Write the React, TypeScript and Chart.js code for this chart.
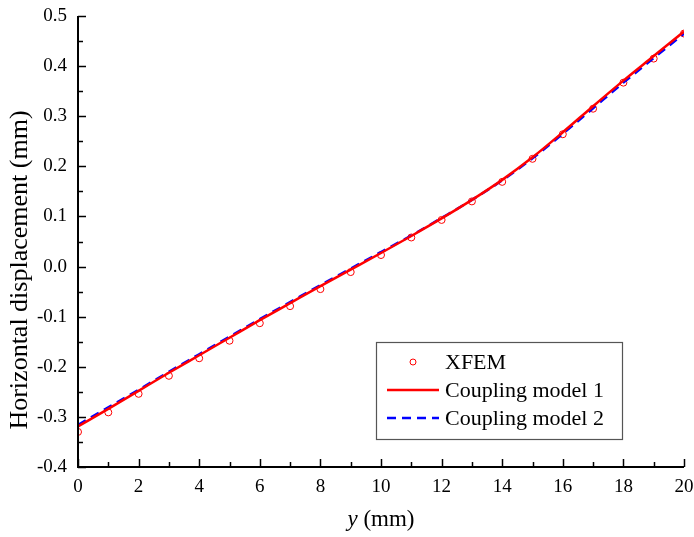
import React, { useEffect, useRef } from "react";
import { Chart, registerables } from "chart.js";

Chart.register(...registerables);

const xValues = [0, 1, 2, 3, 4, 5, 6, 7, 8, 9, 10, 11, 12, 13, 14, 15, 16, 17, 18, 19, 20];
const xfem = [-0.330, -0.291, -0.254, -0.218, -0.183, -0.148, -0.113, -0.079, -0.045, -0.011, 0.023, 0.058, 0.093, 0.130, 0.169, 0.215, 0.264, 0.315, 0.367, 0.415, 0.465];
const model1 = [-0.319, -0.284, -0.248, -0.212, -0.177, -0.142, -0.107, -0.073, -0.039, -0.006, 0.027, 0.061, 0.096, 0.133, 0.173, 0.218, 0.268, 0.320, 0.371, 0.420, 0.469];
const model2 = [-0.316, -0.281, -0.246, -0.210, -0.175, -0.140, -0.105, -0.071, -0.037, -0.004, 0.029, 0.062, 0.097, 0.133, 0.172, 0.216, 0.265, 0.316, 0.367, 0.416, 0.465];

const seriesNames = ["XFEM", "Coupling model 1", "Coupling model 2"];
const xTitleItalic = "y";
const xTitleRest = " (mm)";
const yTitle = "Horizontal displacement (mm)";

const FONT = "'Liberation Serif', 'Times New Roman', serif";

const toPts = (ys: number[]) => xValues.map((x, i) => ({ x, y: ys[i] }));

const decorPlugin = {
  id: "decor",
  afterDraw(chart: any) {
    const ctx = chart.ctx;
    const xs = chart.scales.x;
    const ys = chart.scales.y;
    const a = chart.chartArea;
    ctx.save();
    // axes
    ctx.strokeStyle = "#000";
    ctx.lineWidth = 2;
    ctx.beginPath();
    ctx.moveTo(a.left, a.top);
    ctx.lineTo(a.left, a.bottom);
    ctx.lineTo(a.right, a.bottom);
    ctx.stroke();
    // ticks (inward)
    ctx.lineWidth = 1.5;
    for (let v = 0; v <= 20; v += 1) {
      const px = Math.round(xs.getPixelForValue(v)) + 0.5;
      const len = v % 2 === 0 ? 8 : 5;
      ctx.beginPath();
      ctx.moveTo(px, a.bottom);
      ctx.lineTo(px, a.bottom - len);
      ctx.stroke();
    }
    for (let k = -8; k <= 10; k += 1) {
      const v = k / 20;
      const py = Math.round(ys.getPixelForValue(v)) + 0.5;
      const len = k % 2 === 0 ? 8 : 5;
      ctx.beginPath();
      ctx.moveTo(a.left, py);
      ctx.lineTo(a.left + len, py);
      ctx.stroke();
    }
    // titles
    ctx.fillStyle = "#000";
    ctx.textBaseline = "middle";
    ctx.font = `italic 23px ${FONT}`;
    const w1 = ctx.measureText(xTitleItalic).width;
    ctx.font = `23px ${FONT}`;
    const w2 = ctx.measureText(xTitleRest).width;
    const cx = (a.left + a.right) / 2;
    const sx = cx - (w1 + w2) / 2;
    ctx.textAlign = "left";
    ctx.font = `italic 23px ${FONT}`;
    ctx.fillText(xTitleItalic, sx, 520);
    ctx.font = `23px ${FONT}`;
    ctx.fillText(xTitleRest, sx + w1, 520);

    ctx.save();
    ctx.translate(20, 270);
    ctx.rotate(-Math.PI / 2);
    ctx.textAlign = "center";
    ctx.font = `26px ${FONT}`;
    ctx.fillText(yTitle, 0, 0);
    ctx.restore();

    // legend
    const L = 376, T = 342, R = 622, B = 439;
    ctx.strokeStyle = "#555";
    ctx.lineWidth = 1.2;
    ctx.fillStyle = "#fff";
    ctx.fillRect(L, T, R - L, B - T);
    ctx.strokeRect(L + 0.5, T + 0.5, R - L, B - T);
    const rows = [362, 390, 418];
    ctx.strokeStyle = "#ff0000";
    ctx.lineWidth = 1;
    ctx.beginPath();
    ctx.arc(413, rows[0], 3, 0, Math.PI * 2);
    ctx.stroke();
    ctx.lineWidth = 2.5;
    ctx.beginPath();
    ctx.moveTo(387, rows[1]);
    ctx.lineTo(439, rows[1]);
    ctx.stroke();
    ctx.strokeStyle = "#0000ff";
    ctx.setLineDash([9, 6]);
    ctx.beginPath();
    ctx.moveTo(387, rows[2]);
    ctx.lineTo(439, rows[2]);
    ctx.stroke();
    ctx.setLineDash([]);
    ctx.fillStyle = "#000";
    ctx.font = `22px ${FONT}`;
    ctx.textAlign = "left";
    ctx.textBaseline = "middle";
    seriesNames.forEach((n, i) => ctx.fillText(n, 445, rows[i] + 1));
    ctx.restore();
  },
};

export default function App() {
  const ref = useRef<HTMLCanvasElement | null>(null);
  useEffect(() => {
    document.body.style.margin = "0";
    const canvas = ref.current!;
    const chart = new Chart(canvas, {
      type: "scatter",
      data: {
        datasets: [
          {
            label: seriesNames[1],
            data: toPts(model1),
            showLine: true,
            borderColor: "#ff0000",
            borderWidth: 2.5,
            pointRadius: 0,
            cubicInterpolationMode: "monotone",
          },
          {
            label: seriesNames[2],
            data: toPts(model2),
            showLine: true,
            borderColor: "#0000ff",
            borderWidth: 2.5,
            borderDash: [9, 6],
            pointRadius: 0,
            cubicInterpolationMode: "monotone",
          },
          {
            label: seriesNames[0],
            data: toPts(xfem),
            showLine: false,
            borderColor: "#ff0000",
            backgroundColor: "rgba(0,0,0,0)",
            borderWidth: 1,
            pointRadius: 3.5,
            pointStyle: "circle",
          },
        ],
      },
      options: {
        animation: false,
        responsive: false,
        maintainAspectRatio: false,
        layout: { padding: { left: 0, top: 16, right: 10, bottom: 0 } },
        plugins: { legend: { display: false }, tooltip: { enabled: false } },
        scales: {
          x: {
            type: "linear",
            min: 0,
            max: 20,
            grid: { display: false, drawTicks: false },
            border: { display: false },
            ticks: {
              stepSize: 2,
              padding: 9,
              color: "#000",
              font: { family: FONT, size: 19 },
              maxRotation: 0,
            },
            afterFit: (s: any) => {
              s.height = 70;
              s.paddingLeft = 0;
              s.paddingRight = 0;
            },
          },
          y: {
            type: "linear",
            min: -0.4,
            max: 0.5,
            grid: { display: false, drawTicks: false },
            border: { display: false },
            ticks: {
              stepSize: 0.1,
              padding: 11,
              color: "#000",
              font: { family: FONT, size: 19 },
              callback: (v: any) => Number(v).toFixed(1),
            },
            afterFit: (s: any) => {
              s.width = 78;
              s.paddingTop = 0;
              s.paddingBottom = 0;
            },
          },
        },
      },
      plugins: [decorPlugin],
    } as any);
    return () => chart.destroy();
  }, []);
  return <canvas ref={ref} width={694} height={537} style={{ display: "block" }} />;
}
